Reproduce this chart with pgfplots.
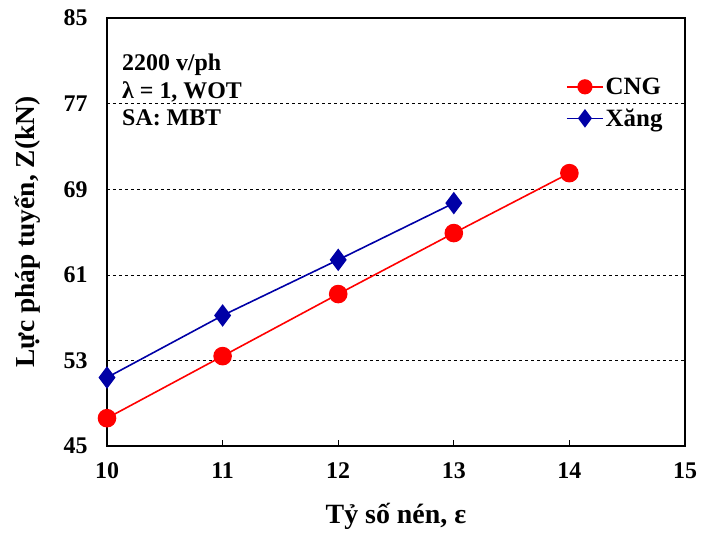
\documentclass[border=0pt]{standalone}
\usepackage{fontspec}
\setmainfont{Liberation Serif}
\usepackage{pgfplots}
\pgfplotsset{compat=1.18}

\begin{document}
\begin{tikzpicture}
\begin{axis}[
    scale only axis,
    width=578bp, height=428bp,
    xmin=10, xmax=15,
    ymin=45, ymax=85,
    xtick={10,11,12,13,14,15},
    ytick={45,53,61,69,77,85},
    axis line style={line width=1.8pt},
    xtick style={line width=1pt, black},
    ytick style={draw=none},
    major tick length=6bp,
    tick align=inside,
    xtick pos=bottom,
    ytick pos=left,
    ymajorgrids=true,
    grid style={dashed, black, line width=0.6pt},
    /pgf/number format/assume math mode=true,
    ticklabel style={font=\fontsize{24}{28}\selectfont\bfseries},
    xticklabel style={yshift=-13bp},
    yticklabel style={xshift=-16bp},
    xlabel={Tỷ số nén, ε},
    ylabel={Lực pháp tuyến, Z(kN)},
    every axis x label/.style={at={(rel axis cs:0.5,-0.164)}, anchor=center,
        font=\fontsize{28}{30}\selectfont\bfseries},
    every axis y label/.style={at={(rel axis cs:-0.137,0.5)}, rotate=90, anchor=center,
        font=\fontsize{27.5}{30}\selectfont\bfseries},
    legend style={draw=none, fill=none, at={(0.97,0.87)}, anchor=north east,
        font=\fontsize{25}{28}\selectfont\bfseries, row sep=9bp,
        legend cell align=left},
    legend image code/.code={
        \draw[#1, line width=1.6pt] (0bp,0bp) -- (36bp,0bp);
        \draw[#1, only marks, every mark/.append style={scale=0.8}] plot coordinates {(18bp,0bp)};
    },
    clip=false,
]
\addplot[red, line width=1.6pt, mark=*, mark size=8.5bp, mark options={fill=red, draw=red}]
    coordinates {(10,47.6) (11,53.4) (12,59.2) (13,64.9) (14,70.5)};
\addlegendentry{CNG}
\addplot[blue!65!black, line width=1.6pt, mark=diamond*, mark size=10bp,
    mark options={fill=blue!65!black, draw=blue!65!black}]
    coordinates {(10,51.4) (11,57.2) (12,62.4) (13,67.7)};
\addlegendentry{Xăng}
\node[anchor=west, align=left, font=\fontsize{24}{27.5}\selectfont\bfseries, inner sep=0pt]
    at (rel axis cs:0.026,0.832) {2200 v/ph\\λ = 1, WOT\\SA: MBT};
\path (rel axis cs:0,0) ++(-107bp,-88bp) coordinate (bbll);
\path (rel axis cs:1,1) ++(16bp,18bp) coordinate (bbur);
\end{axis}
\end{tikzpicture}
\end{document}
